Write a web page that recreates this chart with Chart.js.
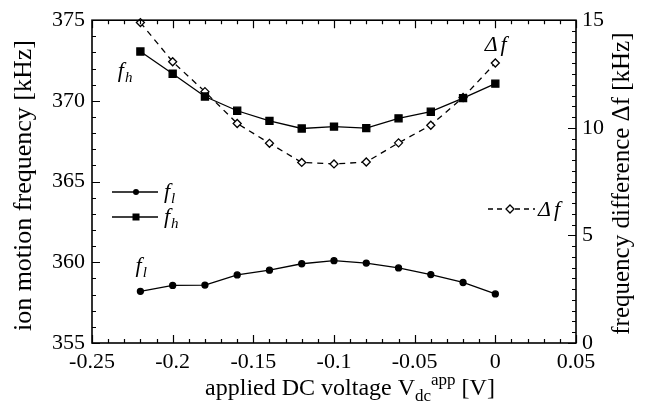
<!DOCTYPE html>
<html>
<head>
<meta charset="utf-8">
<script src="https://cdn.jsdelivr.net/npm/chart.js@4.4.0/dist/chart.umd.min.js"></script>
<style>
  html, body { margin: 0; padding: 0; background: #fff; }
  #wrap { width: 647px; height: 409px; position: relative; }
</style>
</head>
<body>
<div id="wrap"><canvas id="chart"></canvas></div>
<script>
// data
const voltage = [-0.22, -0.20, -0.18, -0.16, -0.14, -0.12, -0.10, -0.08, -0.06, -0.04, -0.02, 0.00];
const fLow    = [358.20, 358.57, 358.59, 359.22, 359.51, 359.91, 360.10, 359.95, 359.65, 359.24, 358.75, 358.04];
const fHigh   = [373.06, 371.68, 370.27, 369.39, 368.76, 368.29, 368.41, 368.31, 368.92, 369.33, 370.17, 371.07];
const deltaF  = [14.89, 13.07, 11.68, 10.20, 9.28, 8.39, 8.32, 8.41, 9.30, 10.12, 11.41, 13.01];

const xRange = [-0.25, 0.05];
const leftRange = [355, 375];
const rightRange = [0, 15];

const serif = '"Liberation Serif", "Times New Roman", serif';

function pts(ys) {
    return voltage.map((x, i) => ({ x: x, y: ys[i] }));
}

function fmt(v) {
    return String(Number(v.toFixed(2)));
}

// italic f with a subscript
function drawF(ctx, x, y, sub) {
    ctx.save();
    ctx.fillStyle = '#000';
    ctx.textBaseline = 'alphabetic';
    ctx.textAlign = 'left';
    ctx.font = 'italic 22px ' + serif;
    ctx.fillText('f', x, y);
    const w = ctx.measureText('f').width;
    ctx.font = 'italic 15px ' + serif;
    ctx.fillText(sub, x + w + 1, y + 5);
    ctx.restore();
}

const decorPlugin = {
    id: 'decor',
    afterDraw(chart) {
        const ctx = chart.ctx;
        const a = chart.chartArea;
        const sx = chart.scales.x, sl = chart.scales.y, sr = chart.scales.y2;
        ctx.save();
        ctx.strokeStyle = '#000';
        ctx.lineWidth = 1.6;
        ctx.strokeRect(a.left, a.top, a.right - a.left, a.bottom - a.top);

        // inward ticks
        ctx.lineWidth = 1.2;
        ctx.beginPath();
        for (let i = 0; i <= 30; i++) {
            const v = xRange[0] + i * 0.01;
            const px = Math.round(sx.getPixelForValue(v)) + 0.5;
            const len = i % 5 === 0 ? 8 : 4;
            ctx.moveTo(px, a.bottom); ctx.lineTo(px, a.bottom - len);
            ctx.moveTo(px, a.top); ctx.lineTo(px, a.top + len);
        }
        for (let i = 0; i <= 20; i++) {
            const py = Math.round(sl.getPixelForValue(leftRange[0] + i)) + 0.5;
            const len = i % 5 === 0 ? 8 : 4;
            ctx.moveTo(a.left, py); ctx.lineTo(a.left + len, py);
        }
        for (let i = 0; i <= 30; i++) {
            const py = Math.round(sr.getPixelForValue(rightRange[0] + i * 0.5)) + 0.5;
            const len = i % 10 === 0 ? 8 : 4;
            ctx.moveTo(a.right, py); ctx.lineTo(a.right - len, py);
        }
        ctx.stroke();

        // axis titles
        ctx.fillStyle = '#000';
        ctx.textAlign = 'center';
        ctx.textBaseline = 'middle';
        const midY = (a.top + a.bottom) / 2;
        ctx.save();
        ctx.font = '26px ' + serif;
        ctx.translate(24, midY + 4);
        ctx.rotate(-Math.PI / 2);
        ctx.fillText('ion motion frequency [kHz]', 0, 0);
        ctx.restore();
        ctx.save();
        ctx.font = '25px ' + serif;
        ctx.translate(622, midY + 2);
        ctx.rotate(-Math.PI / 2);
        ctx.fillText('frequency difference \u0394f [kHz]', 0, 0);
        ctx.restore();

        // x title with sub/superscript
        const parts = [
            ['applied DC voltage V', '24px ' + serif, 0],
            ['dc', '17px ' + serif, 6],
            ['app', '17px ' + serif, -10],
            [' [V]', '24px ' + serif, 0]
        ];
        let total = 0;
        parts.forEach(p => { ctx.font = p[1]; total += ctx.measureText(p[0]).width; });
        let cx = 350 - total / 2;
        ctx.textAlign = 'left';
        ctx.textBaseline = 'alphabetic';
        parts.forEach(p => {
            ctx.font = p[1];
            ctx.fillText(p[0], cx, 395 + p[2]);
            cx += ctx.measureText(p[0]).width;
        });

        // curve labels placed through the scales
        drawF(ctx, sx.getPixelForValue(-0.234), sl.getPixelForValue(371.5), 'h');
        drawF(ctx, sx.getPixelForValue(-0.223), sl.getPixelForValue(359.4), 'l');
        ctx.font = 'italic 22px ' + serif;
        ctx.textBaseline = 'alphabetic';
        ctx.fillText('\u0394', sx.getPixelForValue(-0.0066), sl.getPixelForValue(373.1));
        const dw = ctx.measureText('\u0394').width;
        ctx.fillText('f', sx.getPixelForValue(-0.0066) + dw + 3, sl.getPixelForValue(373.1));

        // legend
        ctx.lineWidth = 1.3;
        ctx.setLineDash([]);
        [[192, 'l', 'circle'], [217, 'h', 'rect']].forEach(e => {
            ctx.beginPath();
            ctx.moveTo(112, e[0]); ctx.lineTo(158, e[0]);
            ctx.stroke();
            if (e[2] === 'circle') {
                ctx.beginPath(); ctx.arc(136, e[0], 3, 0, Math.PI * 2); ctx.fill();
            } else {
                ctx.fillRect(132.5, e[0] - 3.5, 7, 7);
            }
            drawF(ctx, 164, e[0] + 6, e[1]);
        });
        ctx.setLineDash([5, 4]);
        ctx.beginPath();
        ctx.moveTo(488, 209); ctx.lineTo(535, 209);
        ctx.stroke();
        ctx.setLineDash([]);
        ctx.fillStyle = '#fff';
        ctx.beginPath();
        ctx.moveTo(510, 205); ctx.lineTo(514, 209); ctx.lineTo(510, 213); ctx.lineTo(506, 209); ctx.closePath();
        ctx.fill(); ctx.stroke();
        ctx.fillStyle = '#000';
        ctx.font = 'italic 22px ' + serif;
        ctx.fillText('\u0394', 538, 216);
        ctx.fillText('f', 538 + dw + 3, 216);
        ctx.restore();
    }
};

new Chart(document.getElementById('chart'), {
    type: 'line',
    data: {
        datasets: [{
            label: 'fl',
            data: pts(fLow),
            yAxisID: 'y',
            borderColor: '#000',
            backgroundColor: '#000',
            borderWidth: 1.3,
            pointStyle: 'circle',
            pointRadius: 3,
            tension: 0
        }, {
            label: 'fh',
            data: pts(fHigh),
            yAxisID: 'y',
            borderColor: '#000',
            backgroundColor: '#000',
            borderWidth: 1.3,
            pointStyle: 'rect',
            pointRadius: 5,
            tension: 0
        }, {
            label: 'Δf',
            data: pts(deltaF),
            yAxisID: 'y2',
            borderColor: '#000',
            backgroundColor: '#fff',
            borderWidth: 1.3,
            borderDash: [6, 5],
            pointStyle: 'rectRot',
            pointRadius: 4,
            pointBorderWidth: 1.3,
            tension: 0
        }]
    },
    options: {
        responsive: true,
        maintainAspectRatio: false,
        animation: false,
        clip: false,
        layout: { padding: { top: 16 } },
        plugins: {
            legend: { display: false },
            tooltip: { enabled: false }
        },
        scales: {
            x: {
                type: 'linear',
                min: xRange[0],
                max: xRange[1],
                grid: { display: false, drawTicks: false },
                border: { display: false },
                ticks: {
                    stepSize: 0.05,
                    padding: 6,
                    color: '#000',
                    font: { family: serif, size: 22 },
                    callback: v => fmt(v),
                    maxRotation: 0
                },
                afterFit: s => { s.height = 66; }
            },
            y: {
                position: 'left',
                min: leftRange[0],
                max: leftRange[1],
                grid: { display: false, drawTicks: false },
                border: { display: false },
                ticks: {
                    stepSize: 5,
                    padding: 7,
                    color: '#000',
                    font: { family: serif, size: 22 }
                },
                afterFit: s => { s.width = 92; }
            },
            y2: {
                position: 'right',
                min: rightRange[0],
                max: rightRange[1],
                grid: { display: false, drawTicks: false },
                border: { display: false },
                ticks: {
                    stepSize: 5,
                    padding: 6,
                    color: '#000',
                    font: { family: serif, size: 22 }
                },
                afterFit: s => { s.width = 71; }
            }
        }
    },
    plugins: [decorPlugin]
});
</script>
</body>
</html>
